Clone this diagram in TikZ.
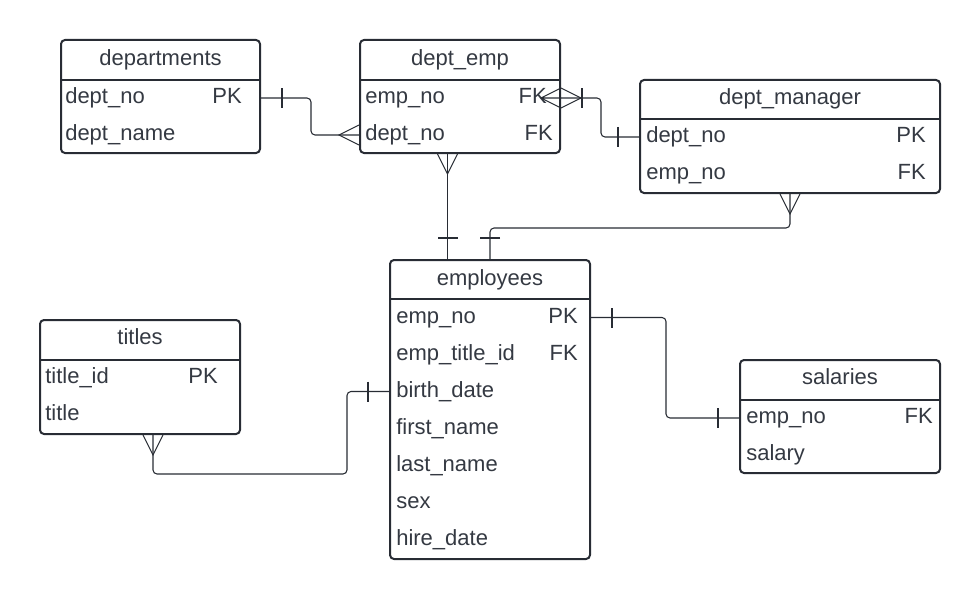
\documentclass[tikz,border=0pt]{standalone}
\usepackage{fontspec}
\setmainfont{Liberation Sans}
\usetikzlibrary{fit}
\definecolor{ink}{RGB}{40,44,52}
\definecolor{txt}{RGB}{52,57,66}
\tikzset{
  tbl/.style={draw=ink, line width=1.5pt, rounded corners=3pt, inner sep=0pt},
  sep/.style={draw=ink, line width=1.5pt},
  hdr/.style={text=txt, font=\fontsize{16.5}{20}\selectfont, inner sep=0pt, text height=12pt, text depth=3.75pt},
  fld/.style={hdr, anchor=west},
  key/.style={hdr, anchor=east},
  rel/.style={draw=ink, line width=0.8pt, rounded corners=3pt},
  one/.pic={\draw[rel] (-21,-10) -- (-21,10);},
  many/.pic={\draw[rel, sharp corners] (0,-10) -- (-20,0) -- (0,10);},
}

\begin{document}
\begin{tikzpicture}[x=0.75pt, y=-0.75pt]
%\draw[help lines] (0,0) grid (980,599);
\useasboundingbox (0,0) rectangle (980,599);

% departments
\node[tbl, fit={(61,40) (260,153)}] (departments) {};
\draw[sep] (departments.west |- 0,80) -- (departments.east |- 0,80);
\node[hdr] (d-title) at (160.5,60) {departments};
\node[fld] (d-dno) at (65,98) {dept\_no};
\node[key] (d-pk) at (242,98) {PK};
\node[fld] (d-dname) at (65,135) {dept\_name};

% dept_emp
\node[tbl, fit={(360,40) (560,153)}] (dept_emp) {};
\draw[sep] (dept_emp.west |- 0,80) -- (dept_emp.east |- 0,80);
\node[hdr] (de-title) at (460,60) {dept\_emp};
\node[fld] (de-eno) at (365,98) {emp\_no};
\node[key] (de-fk1) at (547,98) {FK};
\node[fld] (de-dno) at (365,135) {dept\_no};
\node[key] (de-fk2) at (553,135) {FK};

% dept_manager
\node[tbl, fit={(640,80) (940,193)}] (dept_manager) {};
\draw[sep] (dept_manager.west |- 0,119) -- (dept_manager.east |- 0,119);
\node[hdr] (dm-title) at (790,99.5) {dept\_manager};
\node[fld] (dm-dno) at (646,137) {dept\_no};
\node[key] (dm-pk) at (926,137) {PK};
\node[fld] (dm-eno) at (646,174) {emp\_no};
\node[key] (dm-fk) at (926,174) {FK};

% employees
\node[tbl, fit={(390,260) (590,559)}] (employees) {};
\draw[sep] (employees.west |- 0,299) -- (employees.east |- 0,299);
\node[hdr] (e-title) at (490,279.5) {employees};
\foreach \n/\t [count=\i from 0] in {no/emp\_no, tid/emp\_title\_id, bd/birth\_date,
    fn/first\_name, ln/last\_name, sx/sex, hd/hire\_date}
  \node[fld] (e-\n) at (396,317.5+37*\i) {\t};
\node[key] (e-pk) at (578,317.5) {PK};
\node[key] (e-fk) at (578,354.5) {FK};

% titles
\node[tbl, fit={(40,320) (240,434)}] (titles) {};
\draw[sep] (titles.west |- 0,360) -- (titles.east |- 0,360);
\node[hdr] (t-title) at (140,339) {titles};
\node[fld] (t-id) at (45,378) {title\_id};
\node[key] (t-pk) at (218,378) {PK};
\node[fld] (t-t) at (45,415) {title};

% salaries
\node[tbl, fit={(740,360) (940,473)}] (salaries) {};
\draw[sep] (salaries.west |- 0,400) -- (salaries.east |- 0,400);
\node[hdr] (s-title) at (840,379) {salaries};
\node[fld] (s-eno) at (746,418) {emp\_no};
\node[key] (s-fk) at (933,418) {FK};
\node[fld] (s-sal) at (746,455) {salary};

% departments -- dept_emp
\draw[rel] (departments.east |- d-dno) -- ++(50,0) |- (dept_emp.west |- de-dno);
\pic[rotate=180] at (departments.east |- d-dno) {one};
\pic at (dept_emp.west |- de-dno) {many};

% dept_emp -- dept_manager
\draw[rel] (dept_emp.east |- de-eno) -- ++(40,0) |- (dept_manager.west |- dm-dno);
\pic[rotate=180] at (dept_emp.east |- de-eno) {many};
\pic[rotate=180] at (dept_emp.east |- de-eno) {one};
\draw[rel, sharp corners] (dept_emp.east |- de-eno) ++(0,-10) -- ++(-20,10) -- ++(20,10) ++(-20,-10) -- ++(20,0);
\pic at (dept_manager.west |- dm-dno) {one};

% dept_emp -- employees
\coordinate (de-s) at ([xshift=-9.375pt]dept_emp.south);
\draw[rel] (de-s) -- (de-s |- employees.north);
\pic[rotate=90] at (de-s) {many};
\pic[rotate=-90] at (de-s |- employees.north) {one};

% dept_manager -- employees
\draw[rel] (dept_manager.south) -- ++(0,34) -| (employees.north);
\pic[rotate=90] at (dept_manager.south) {many};
\pic[rotate=-90] at (employees.north) {one};

% employees -- salaries
\draw[rel] (employees.east |- e-no) -- ++(75,0) |- (salaries.west |- s-eno);
\pic[rotate=180] at (employees.east |- e-no) {one};
\pic at (salaries.west |- s-eno) {one};

% titles -- employees
\coordinate (t-s) at ([xshift=9.75pt]titles.south);
\draw[rel] (t-s) -- ++(0,39) -| ([xshift=-31.5pt]employees.west |- e-bd) -- (employees.west |- e-bd);
\pic[rotate=90] at (t-s) {many};
\pic at (employees.west |- e-bd) {one};
\end{tikzpicture}
\end{document}
